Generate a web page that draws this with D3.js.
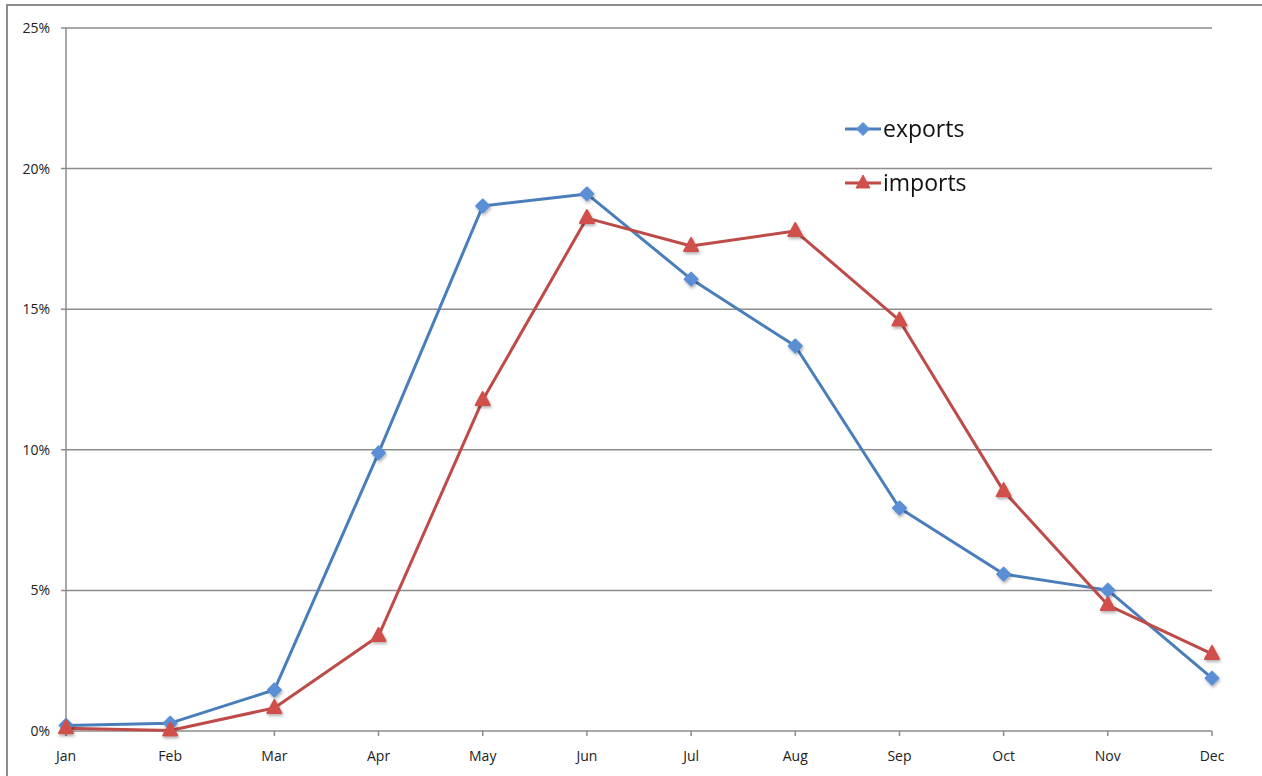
<!DOCTYPE html>
<html lang="en">
<head>
    <meta charset="UTF-8">
    <title>Exports and imports by month</title>
    <script src="https://cdnjs.cloudflare.com/ajax/libs/d3/7.8.5/d3.min.js"></script>
    <style>
        * { margin: 0; padding: 0; }
        body { background: #fff; width: 1262px; height: 776px; overflow: hidden; }
        svg { display: block; font-family: "Open Sans", "Liberation Sans", sans-serif; }
        .tick-label { font-size: 14px; fill: #222; }
        .legend-label { font-size: 23px; fill: #111; }
    </style>
</head>
<body>
    <svg id="chart" width="1262" height="776"></svg>

    <script>
        const months = ['Jan', 'Feb', 'Mar', 'Apr', 'May', 'Jun', 'Jul', 'Aug', 'Sep', 'Oct', 'Nov', 'Dec'];
        const exportsPct = [0.2, 0.28, 1.46, 9.89, 18.67, 19.1, 16.07, 13.69, 7.93, 5.58, 5.01, 1.88];
        const importsPct = [0.1, 0.02, 0.82, 3.38, 11.77, 18.24, 17.25, 17.78, 14.6, 8.53, 4.48, 2.74];
        const yTicks = [0, 5, 10, 15, 20, 25];

        const svg = d3.select('#chart');
        const gridColor = '#8c8c8c';

        // Outer chart frame (runs off the right and bottom of the picture)
        svg.append('rect')
            .attr('x', 7).attr('y', 5)
            .attr('width', 1300).attr('height', 800)
            .attr('fill', 'none')
            .attr('stroke', gridColor)
            .attr('stroke-width', 2);

        const x = d3.scalePoint().domain(months).range([66, 1212]);
        const y = d3.scaleLinear().domain([0, 25]).range([731, 28]);

        // drop shadow for markers
        const defs = svg.append('defs');
        const shadow = defs.append('filter').attr('id', 'shadow')
            .attr('x', '-50%').attr('y', '-50%').attr('width', '200%').attr('height', '200%');
        shadow.append('feDropShadow')
            .attr('dx', 1).attr('dy', 2).attr('stdDeviation', 1.5)
            .attr('flood-color', '#000').attr('flood-opacity', 0.3);

        // Horizontal gridlines
        svg.append('g')
            .selectAll('line')
            .data(yTicks)
            .enter().append('line')
            .attr('x1', 61).attr('x2', 1212)
            .attr('y1', d => y(d)).attr('y2', d => y(d))
            .attr('stroke', gridColor)
            .attr('stroke-width', 1.5);

        // Y axis line
        svg.append('line')
            .attr('x1', 66).attr('x2', 66)
            .attr('y1', y(25)).attr('y2', y(0))
            .attr('stroke', gridColor).attr('stroke-width', 1.5);

        // Y tick labels
        svg.append('g')
            .selectAll('text')
            .data(yTicks)
            .enter().append('text')
            .attr('class', 'tick-label')
            .attr('x', 50)
            .attr('y', d => y(d) + 5)
            .attr('text-anchor', 'end')
            .text(d => d + '%');

        // X axis ticks and labels
        const xAxis = svg.append('g');
        xAxis.selectAll('line')
            .data(months)
            .enter().append('line')
            .attr('x1', d => x(d)).attr('x2', d => x(d))
            .attr('y1', y(0)).attr('y2', y(0) + 5)
            .attr('stroke', gridColor).attr('stroke-width', 1.5);
        xAxis.selectAll('text')
            .data(months)
            .enter().append('text')
            .attr('class', 'tick-label')
            .attr('x', d => x(d))
            .attr('y', 761)
            .attr('text-anchor', 'middle')
            .text(d => d);

        const series = [
            { name: 'exports', values: exportsPct, line: '#4a7ebb', fill: '#5a8fd6', symbol: 'diamond' },
            { name: 'imports', values: importsPct, line: '#be4b48', fill: '#d0504c', symbol: 'triangle' }
        ];

        const lineGen = d3.line()
            .x((d, i) => x(months[i]))
            .y(d => y(d));

        function marker(sel, type) {
            if (type === 'diamond') {
                sel.append('path').attr('d', 'M0,-6.5 L6.5,0 L0,6.5 L-6.5,0 Z');
            } else {
                sel.append('path').attr('d', 'M0,-8 L7,5 L-7,5 Z');
            }
        }

        series.forEach(s => {
            svg.append('path')
                .datum(s.values)
                .attr('d', lineGen)
                .attr('fill', 'none')
                .attr('stroke', s.line)
                .attr('stroke-width', 3)
                .attr('stroke-linejoin', 'round');
        });

        series.forEach(s => {
            const g = svg.append('g').attr('filter', 'url(#shadow)');
            s.values.forEach((v, i) => {
                const m = g.append('g')
                    .attr('transform', `translate(${x(months[i])},${y(v)})`)
                    .attr('fill', s.fill)
                    .attr('stroke', s.fill)
                    .attr('stroke-width', 2)
                    .attr('stroke-linejoin', 'round');
                marker(m, s.symbol);
            });
        });

        // Legend
        const legend = svg.append('g');
        series.forEach((s, i) => {
            const ly = 129 + i * 54;
            legend.append('line')
                .attr('x1', 845).attr('x2', 881)
                .attr('y1', ly).attr('y2', ly)
                .attr('stroke', s.line).attr('stroke-width', 3);
            const m = legend.append('g')
                .attr('transform', `translate(863,${ly})`)
                .attr('fill', s.fill)
                .attr('stroke', s.fill)
                .attr('stroke-width', 1);
            marker(m, s.symbol);
            legend.append('text')
                .attr('class', 'legend-label')
                .attr('x', 883)
                .attr('y', ly + 8)
                .text(s.name);
        });
    </script>
</body>
</html>
